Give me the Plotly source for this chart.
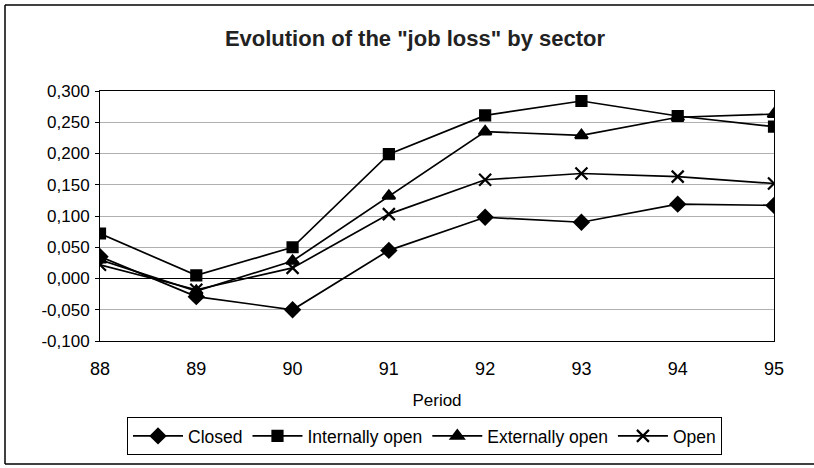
import plotly.graph_objects as go

periods = [88, 89, 90, 91, 92, 93, 94, 95]
closed = [0.035, -0.029, -0.050, 0.045, 0.098, 0.090, 0.119, 0.117]
internally_open = [0.072, 0.005, 0.050, 0.199, 0.261, 0.284, 0.260, 0.243]
externally_open = [0.030, -0.020, 0.028, 0.132, 0.235, 0.229, 0.258, 0.263]
open_ = [0.022, -0.018, 0.017, 0.103, 0.158, 0.168, 0.163, 0.152]

y_ticks = [-0.1, -0.05, 0.0, 0.05, 0.1, 0.15, 0.2, 0.25, 0.3]
y_tick_labels = ["-0,100", "-0,050", "0,000", "0,050", "0,100", "0,150", "0,200", "0,250", "0,300"]

series = [
    ("Closed", closed, "diamond", 11),
    ("Internally open", internally_open, "square", 10),
    ("Externally open", externally_open, "triangle-up", 11),
    ("Open", open_, "x-thin-open", 12),
]

fig = go.Figure()
for name, vals, sym, sz in series:
    fig.add_trace(go.Scatter(
        x=periods, y=vals, name=name, mode="lines+markers",
        line=dict(color="black", width=1.7),
        marker=dict(symbol=sym, size=sz, color="black",
                    line=dict(color="black", width=2.2)),
    ))

PX_L, PX_R, PX_T, PX_B = 100, 774, 91, 341
W, H = 814, 468

def px(x):
    return (x - PX_L) / (PX_R - PX_L)

def py(y):
    return (PX_B - y) / (PX_B - PX_T)

border = dict(color="black", width=1.5)

fig.update_layout(
    width=W, height=H,
    margin=dict(l=PX_L, r=W - PX_R, t=PX_T, b=H - PX_B, autoexpand=False),
    paper_bgcolor="white", plot_bgcolor="white",
    font=dict(family="Liberation Sans, Arial", color="black", size=16),
    title=dict(text="<b>Evolution of the \"job loss\" by sector</b>",
               xref="container", x=415 / W, xanchor="center",
               yref="container", y=1 - 38 / H, yanchor="middle",
               font=dict(size=22, color="#222")),
    showlegend=True,
    legend=dict(orientation="h", x=px(127), xanchor="left", y=py(417), yanchor="top",
                bordercolor="black", borderwidth=1, bgcolor="white",
                font=dict(size=17.5), itemwidth=50, tracegroupgap=0),
    xaxis=dict(range=[88, 95], tickvals=periods, ticktext=[str(p) for p in periods],
               showgrid=False, zeroline=False, showline=True, linecolor="black",
               linewidth=1, mirror=True, ticks="", ticklabelstandoff=11,
               title=dict(text="Period", standoff=16, font=dict(size=17)),
               tickfont=dict(size=18)),
    yaxis=dict(range=[-0.1, 0.3], tickvals=y_ticks, ticktext=y_tick_labels,
               showgrid=True, gridcolor="#b0b0b0", gridwidth=1,
               zeroline=True, zerolinecolor="black", zerolinewidth=1,
               showline=True, linecolor="black", linewidth=1, mirror=True,
               ticks="outside", ticklen=4, tickcolor="black",
               ticklabelstandoff=2, tickfont=dict(size=17)),
    shapes=[
        dict(type="line", xref="paper", yref="paper",
             x0=px(5), x1=px(5), y0=py(464), y1=py(5), line=border, layer="below"),
        dict(type="line", xref="paper", yref="paper",
             x0=px(5), x1=px(900), y0=py(5), y1=py(5), line=border, layer="below"),
        dict(type="line", xref="paper", yref="paper",
             x0=px(5), x1=px(900), y0=py(464), y1=py(464), line=border, layer="below"),
    ],
)

fig.write_html("out.html", config={"displayModeBar": False},
               post_script="document.body.style.margin='0px';document.body.style.overflow='hidden';")
